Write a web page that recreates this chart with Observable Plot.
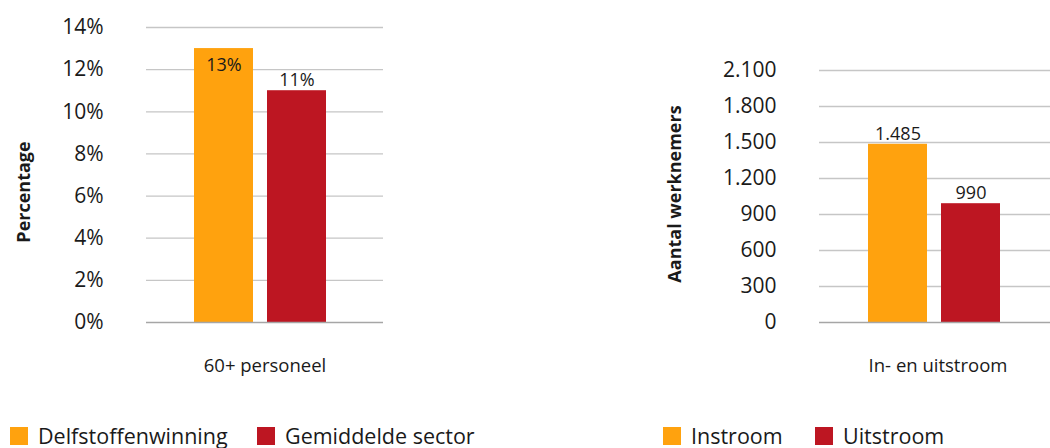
<!DOCTYPE html>
<html>
<head>
<meta charset="utf-8">
<script src="https://cdn.jsdelivr.net/npm/d3@7"></script>
<script src="https://cdn.jsdelivr.net/npm/@observablehq/plot@0.6"></script>
<style>
  html, body { margin: 0; padding: 0; background: #fff; overflow: hidden; }
  body { font-family: "Open Sans", sans-serif; color: #1a1a1a; }
  #wrap { position: relative; width: 1050px; height: 448px; }
  .chart { position: absolute; top: 0; }
  .ytitle { position: absolute; font-weight: bold; font-size: 18px; white-space: nowrap;
            transform: translate(-50%, -50%) rotate(-90deg); }
  .legend { position: absolute; top: 427px; display: flex; align-items: center; font-size: 21.5px; line-height: 18px; }
  .legend .item { display: flex; align-items: center; }
  .legend .sw { width: 18px; height: 18px; display: inline-block; margin-right: 10px; }
</style>
</head>
<body>
<div id="wrap"></div>
<script>
// ---- data ----
const leftCategory = "60+ personeel";
const leftSeries = ["Delfstoffenwinning", "Gemiddelde sector"];
const leftValues = [13, 11];
const leftTicks = [0, 2, 4, 6, 8, 10, 12, 14];
const leftTitle = "Percentage";

const rightCategory = "In- en uitstroom";
const rightSeries = ["Instroom", "Uitstroom"];
const rightValues = [1485, 990];
const rightTicks = [0, 300, 600, 900, 1200, 1500, 1800, 2100];
const rightTitle = "Aantal werknemers";

const colors = ["#FFA20E", "#BD1622"];

// ---- helpers ----
const nl = d3.formatLocale({decimal: ",", thousands: ".", grouping: [3], currency: ["€", ""]});
const fmtThousands = nl.format(",d");

const wrap = document.getElementById("wrap");

function makeChart({category, series, values, ticks, tickFormat, labelFormat, width, marginLeft, marginRight, marginTop, paddingOuter, align, left}) {
  const data = series.map((s, i) => ({category, series: s, value: values[i]}));
  const ymax = ticks[ticks.length - 1];
  const step = ticks[1] - ticks[0];
  const fits = d => d.value + step * 0.6 <= ymax;
  const chart = Plot.plot({
    width, height: 400,
    marginLeft, marginRight, marginTop, marginBottom: 78,
    style: {fontFamily: "Open Sans, sans-serif", fontSize: "21px", color: "#1a1a1a", background: "transparent", overflow: "visible"},
    fx: {domain: [category], padding: 0, label: null},
    x: {domain: series, paddingInner: 0.189, paddingOuter, align, axis: null},
    y: {domain: [0, ymax], ticks, tickFormat, label: null},
    color: {domain: series, range: colors},
    marks: [
      Plot.gridY(ticks.filter(t => t !== 0), {stroke: "#c6c6c6", strokeOpacity: 1, strokeWidth: 1.3}),
      Plot.axisY({ticks, tickFormat, tickSize: 0, tickPadding: 43, fontSize: 21, label: null}),
      Plot.axisFx({anchor: "bottom", tickSize: 0, tickPadding: 36, fontSize: 18.5, label: null}),
      Plot.barY(data, {fx: "category", x: "series", y: "value", fill: "series"}),
      Plot.ruleY([0], {stroke: "#a6a6a6", strokeWidth: 1.5}),
      Plot.text(data.filter(fits), {fx: "category", x: "series", y: "value", text: d => labelFormat(d.value), dy: -10.5, fontSize: 18, fill: "#1a1a1a"}),
      Plot.text(data.filter(d => !fits(d)), {fx: "category", x: "series", y: "value", text: d => labelFormat(d.value), dy: 17, fontSize: 18, fill: "#1a1a1a"})
    ]
  });
  chart.classList.add("chart");
  chart.style.left = left + "px";
  wrap.appendChild(chart);
}

makeChart({
  category: leftCategory, series: leftSeries, values: leftValues, ticks: leftTicks,
  tickFormat: d => d + "%", labelFormat: d => d + "%",
  width: 525, marginLeft: 146, marginRight: 142, marginTop: 27, paddingOuter: 0.696, align: 0.456, left: 0
});
makeChart({
  category: rightCategory, series: rightSeries, values: rightValues, ticks: rightTicks,
  tickFormat: d => fmtThousands(d), labelFormat: d => fmtThousands(d),
  width: 531, marginLeft: 294, marginRight: 0, marginTop: 70, paddingOuter: 0.696, align: 0.466, left: 525
});

// axis titles
function addTitle(text, cx, cy) {
  const t = document.createElement("div");
  t.className = "ytitle";
  t.textContent = text;
  t.style.left = cx + "px";
  t.style.top = cy + "px";
  wrap.appendChild(t);
}
addTitle(leftTitle, 23, 192);
addTitle(rightTitle, 674, 194);

// legends
function addLegend(series, positions) {
  series.forEach((s, i) => {
    const lg = document.createElement("div");
    lg.className = "legend";
    lg.style.left = positions[i] + "px";
    lg.innerHTML = `<span class="item"><span class="sw" style="background:${colors[i]}"></span><span>${s}</span></span>`;
    wrap.appendChild(lg);
  });
}
addLegend(leftSeries, [10, 257]);
addLegend(rightSeries, [663, 815]);
</script>
</body>
</html>
